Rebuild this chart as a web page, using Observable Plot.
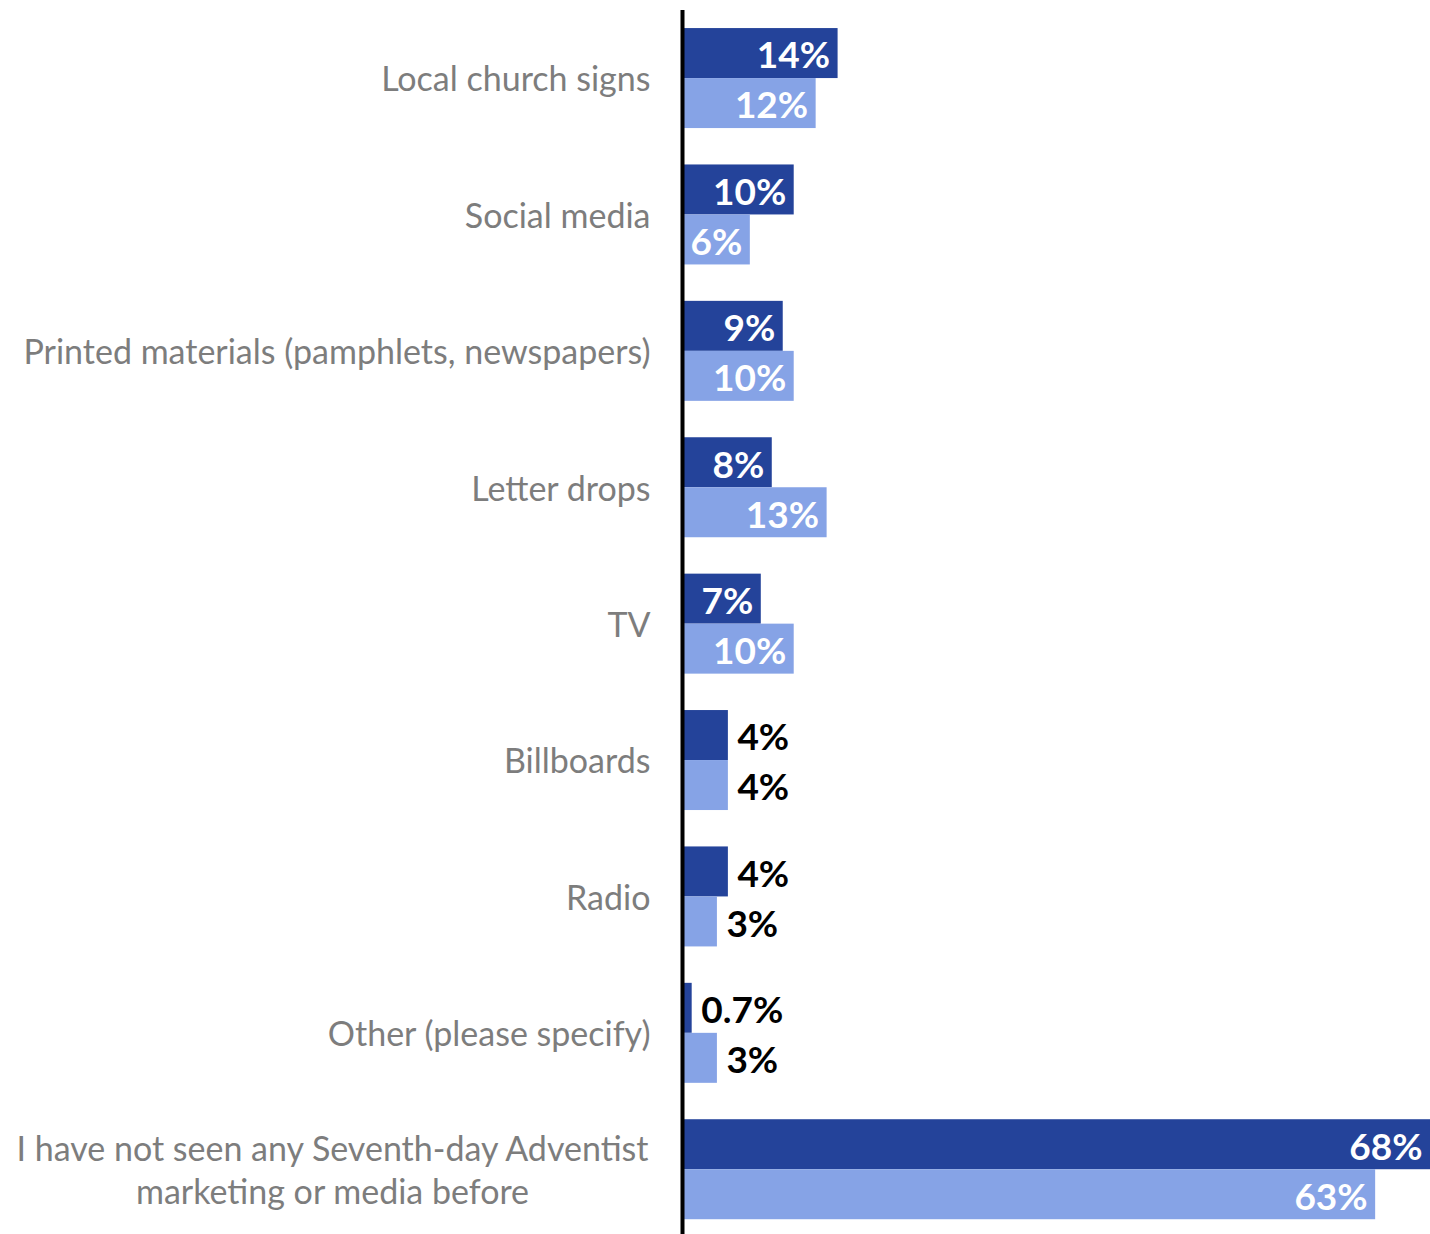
<!DOCTYPE html>
<html>
<head>
<meta charset="utf-8">
<script src="https://cdn.jsdelivr.net/npm/d3@7"></script>
<script src="https://cdn.jsdelivr.net/npm/@observablehq/plot@0.6"></script>
<style>
  html, body { margin: 0; padding: 0; background: #fff; }
  #chart svg { display: block; }
</style>
</head>
<body>
<div id="chart"></div>
<script>
const categories = [
  "Local church signs",
  "Social media",
  "Printed materials (pamphlets, newspapers)",
  "Letter drops",
  "TV",
  "Billboards",
  "Radio",
  "Other (please specify)",
  "I have not seen any Seventh-day Adventist\nmarketing or media before"
];
const seriesDark = [14, 10, 9, 8, 7, 4, 4, 0.7, 68];
const seriesLight = [12, 6, 10, 13, 10, 4, 3, 3, 63];

const dark = categories.map((c, i) => ({category: c, value: seriesDark[i], label: seriesDark[i] + "%"}));
const light = categories.map((c, i) => ({category: c, value: seriesLight[i], label: seriesLight[i] + "%"}));

const DARK = "#24439a";
const LIGHT = "#86a3e6";
const inside = d => d.value >= 5;
const outside = d => d.value < 5;
const multi = c => c.includes("\n");

const valueFont = {fontSize: 37, fontWeight: 700, fontFamily: "Lato"};
const labelFont = {fontSize: 34, fontFamily: "Lato", fill: "#7d7d7d"};

const chart = Plot.plot({
  width: 1430,
  height: 1234,
  marginLeft: 684,
  marginRight: 0,
  marginTop: 10,
  marginBottom: 0,
  x: {domain: [0, 68], axis: null},
  y: {domain: categories, axis: null, paddingInner: 0.2669, paddingOuter: 0.1204, align: 0.55, round: false},
  style: {fontFamily: "Lato", background: "#fff"},
  marks: [
    Plot.barX(dark, {x: "value", y: "category", fill: DARK, insetBottom: 50}),
    Plot.barX(light, {x: "value", y: "category", fill: LIGHT, insetTop: 50}),
    Plot.text(dark, {filter: inside, x: "value", y: "category", text: "label", dy: -22, dx: -8, textAnchor: "end", fill: "#fff", ...valueFont}),
    Plot.text(dark, {filter: outside, x: "value", y: "category", text: "label", dy: -22, dx: 9, textAnchor: "start", fill: "#000", ...valueFont}),
    Plot.text(light, {filter: inside, x: "value", y: "category", text: "label", dy: 28, dx: -8, textAnchor: "end", fill: "#fff", ...valueFont}),
    Plot.text(light, {filter: outside, x: "value", y: "category", text: "label", dy: 28, dx: 9, textAnchor: "start", fill: "#000", ...valueFont}),
    Plot.text(categories.filter(c => !multi(c)), {y: d => d, frameAnchor: "left", textAnchor: "end", dx: -34, dy: 2, ...labelFont}),
    Plot.text(categories.filter(multi), {y: d => d, frameAnchor: "left", textAnchor: "middle", dx: -352, dy: -1, lineHeight: 1.25, ...labelFont}),
    Plot.ruleX([0], {stroke: "#000", strokeWidth: 4, dx: -2})
  ]
});
document.getElementById("chart").append(chart);
</script>
</body>
</html>
